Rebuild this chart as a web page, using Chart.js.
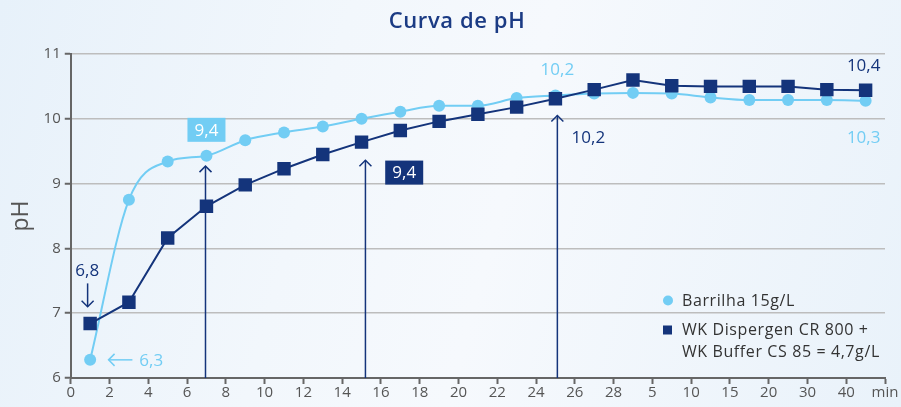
<!DOCTYPE html>
<html>
<head>
<meta charset="utf-8">
<script src="https://cdn.jsdelivr.net/npm/chart.js@4"></script>
<style>
html, body { margin: 0; padding: 0; }
body {
    width: 901px; height: 407px; overflow: hidden;
    background: linear-gradient(105deg, #e7f1fa 0%, #f2f7fc 35%, #f6f9fd 55%, #e9f2fa 100%);
}
canvas { display: block; }
</style>
</head>
<body>
<canvas id="myCanvas" width="901" height="407"></canvas>
<script>
const canvas = document.getElementById('myCanvas');
const ctx = canvas.getContext('2d');

// x positions (axis slots), the axis has custom labels after 28
const minutes = [1, 3, 5, 7, 9, 11, 13, 15, 17, 19, 21, 23, 25, 27, 29, 31, 33, 35, 37, 39, 41];
const tickLabels = ['0', '2', '4', '6', '8', '10', '12', '14', '16', '18', '20', '22', '24', '26', '28',
    '5', '10', '15', '20', '30', '40', 'min'];

const barrilha = [6.28, 8.75, 9.34, 9.43, 9.67, 9.79, 9.88, 10.0, 10.11, 10.2, 10.2, 10.32, 10.36, 10.39,
    10.4, 10.39, 10.33, 10.29, 10.29, 10.29, 10.28];
const dispergen = [6.84, 7.17, 8.16, 8.65, 8.98, 9.23, 9.45, 9.64, 9.82, 9.96, 10.07, 10.18, 10.31, 10.45,
    10.6, 10.51, 10.5, 10.5, 10.5, 10.45, 10.44];

const chartTitle = 'Curva de pH';
const seriesNames = [['Barrilha 15g/L'], ['WK Dispergen CR 800 +', 'WK Buffer CS 85 = 4,7g/L']];

const lightBlue = '#72cdf4';
const navy = '#14347b';

// vertical arrows: x slot, pH where the head ends
const arrowMarks = [
    { x: 6.95, to: 9.27 },
    { x: 15.2, to: 9.36 },
    { x: 25.1, to: 10.05 }
];

// value labels: text, x slot, pH, colour, boxed?
const valueLabels = [
    { text: '9,4', x: 7.0, y: 9.83, color: lightBlue, box: true },
    { text: '9,4', x: 17.2, y: 9.17, color: navy, box: true },
    { text: '10,2', x: 25.1, y: 10.76, color: lightBlue, box: false },
    { text: '10,2', x: 26.7, y: 9.72, color: navy, box: false },
    { text: '10,4', x: 40.9, y: 10.83, color: navy, box: false },
    { text: '10,3', x: 40.9, y: 9.72, color: lightBlue, box: false },
    { text: '6,8', x: 0.85, y: 7.66, color: navy, box: false },
    { text: '6,3', x: 4.15, y: 6.28, color: lightBlue, box: false }
];

const FONT = '"Open Sans", "Noto Sans", sans-serif';

function drawArrowHead(c, x, y, dir) {
    // dir: 'up', 'down', 'left'
    c.beginPath();
    if (dir === 'up') {
        c.moveTo(x - 6, y + 6); c.lineTo(x, y); c.lineTo(x + 6, y + 6);
    } else if (dir === 'down') {
        c.moveTo(x - 6, y - 6); c.lineTo(x, y); c.lineTo(x + 6, y - 6);
    } else {
        c.moveTo(x + 6, y - 6); c.lineTo(x, y); c.lineTo(x + 6, y + 6);
    }
    c.stroke();
}

const annotationPlugin = {
    id: 'phAnnotations',
    beforeDatasetsDraw(chart) {
        const c = chart.ctx;
        const xs = chart.scales.x, ys = chart.scales.y;
        c.save();
        c.strokeStyle = navy;
        c.lineWidth = 1.5;
        for (const a of arrowMarks) {
            const px = xs.getPixelForValue(a.x);
            const top = ys.getPixelForValue(a.to);
            c.beginPath();
            c.moveTo(px, ys.bottom);
            c.lineTo(px, top);
            c.stroke();
            drawArrowHead(c, px, top, 'up');
        }
        // small arrow above first dark point
        const ax = xs.getPixelForValue(0.87);
        c.beginPath();
        c.moveTo(ax, ys.getPixelForValue(7.46));
        c.lineTo(ax, ys.getPixelForValue(7.1));
        c.stroke();
        drawArrowHead(c, ax, ys.getPixelForValue(7.1), 'down');
        // small arrow left of first light point
        c.strokeStyle = lightBlue;
        const ly = ys.getPixelForValue(6.28);
        c.beginPath();
        c.moveTo(xs.getPixelForValue(1.95), ly);
        c.lineTo(xs.getPixelForValue(3.18), ly);
        c.stroke();
        drawArrowHead(c, xs.getPixelForValue(1.95), ly, 'left');
        c.restore();
    },
    afterDraw(chart) {
        const c = chart.ctx;
        const xs = chart.scales.x, ys = chart.scales.y;
        c.save();
        c.textBaseline = 'middle';

        // title, a bit right of the canvas centre like the original
        c.textAlign = 'center';
        c.font = '600 22px ' + FONT;
        c.letterSpacing = '0.6px';
        c.fillStyle = '#1b3b84';
        c.fillText(chartTitle, 457, 22);
        c.letterSpacing = '0px';

        c.font = '17px ' + FONT;
        for (const l of valueLabels) {
            const px = xs.getPixelForValue(l.x);
            const py = ys.getPixelForValue(l.y);
            if (l.box) {
                c.fillStyle = l.color;
                c.fillRect(px - 19, py - 12, 38, 24);
                c.fillStyle = '#ffffff';
            } else {
                c.fillStyle = l.color;
            }
            c.fillText(l.text, px, py + 1);
        }

        // legend, bottom right inside the plot, split by the pH 7 grid line
        const right = chart.chartArea.right;
        const lx = right - 221;
        c.textAlign = 'left';
        c.font = '16px ' + FONT;
        c.letterSpacing = '0.6px';
        c.fillStyle = lightBlue;
        c.beginPath();
        c.arc(lx + 4, 300.5, 5, 0, Math.PI * 2);
        c.fill();
        c.fillStyle = '#333333';
        c.fillText(seriesNames[0][0], lx + 18, 301);
        c.fillStyle = navy;
        c.fillRect(lx - 1, 325.5, 9, 9);
        c.fillStyle = '#333333';
        c.fillText(seriesNames[1][0], lx + 18, 330);
        c.fillText(seriesNames[1][1], lx + 18, 352);
        c.restore();
    }
};

let chart = new Chart(ctx, {
    type: 'line',
    data: {
        datasets: [{
            label: seriesNames[0].join(' '),
            data: minutes.map((m, i) => ({ x: m, y: barrilha[i] })),
            borderColor: lightBlue,
            backgroundColor: lightBlue,
            borderWidth: 2,
            pointStyle: 'circle',
            pointRadius: 6,
            pointBorderWidth: 0,
            cubicInterpolationMode: 'monotone',
            order: 2
        }, {
            label: seriesNames[1].join(' '),
            data: minutes.map((m, i) => ({ x: m, y: dispergen[i] })),
            borderColor: navy,
            backgroundColor: navy,
            borderWidth: 2,
            pointStyle: 'rect',
            pointRadius: 9.5,
            pointBorderWidth: 0,
            tension: 0,
            order: 1
        }]
    },
    options: {
        responsive: false,
        animation: false,
        layout: { padding: { left: 8, right: 16, top: 54, bottom: 5 } },
        plugins: {
            legend: { display: false },
            tooltip: { enabled: false },
            title: { display: false }
        },
        scales: {
            x: {
                type: 'linear',
                min: 0,
                max: 42,
                ticks: {
                    stepSize: 2,
                    autoSkip: false,
                    maxRotation: 0,
                    color: '#555555',
                    font: { family: FONT, size: 15 },
                    padding: 0,
                    callback: (v) => tickLabels[v / 2]
                },
                grid: { drawOnChartArea: false, drawTicks: true, tickLength: 6, tickColor: '#666666', tickWidth: 2 },
                border: { display: true, color: '#666666', width: 2 }
            },
            y: {
                min: 6,
                max: 11,
                ticks: {
                    stepSize: 1,
                    color: '#555555',
                    font: { family: FONT, size: 15 },
                    padding: 4
                },
                title: {
                    display: true,
                    text: 'pH',
                    color: '#555555',
                    font: { family: FONT, size: 23, weight: 500 },
                    padding: { top: 0, bottom: 4 }
                },
                grid: { color: '#bdbdbd', lineWidth: 1.5, tickLength: 6, tickColor: '#666666', tickWidth: 2 },
                border: { display: true, color: '#666666', width: 2 }
            }
        }
    },
    plugins: [annotationPlugin]
});
</script>
</body>
</html>
